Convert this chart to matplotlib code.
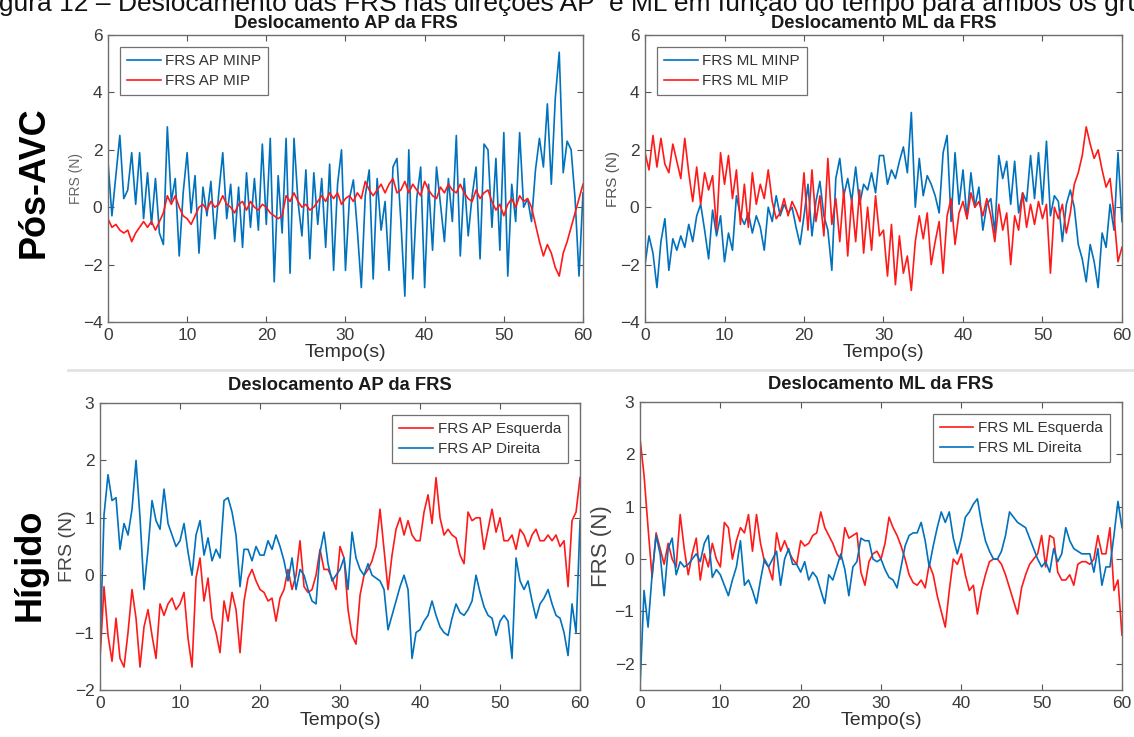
import numpy as np
import matplotlib.pyplot as plt

plt.rcParams['font.family'] = ['Liberation Sans', 'DejaVu Sans']

BLUE = '#0072BD'
RED = '#FF1A1A'

# Pós-AVC, AP (0..60 s, every 0.5 s)
ap_minp = [1.6, -0.3, 1.1, 2.5, 0.3, 0.6, 1.9, 0.1, 1.9, -0.4, 1.2, -0.6, 1.0, -0.9, -1.3, 2.8,
           0.2, 1.0, -1.7, 0.5, 1.9, -0.2, 1.1, -1.6, 0.7, -0.3, 0.9, -1.1, 0.5, 1.9, -0.4, 0.8,
           -1.2, 0.7, -1.4, 1.2, -0.7, 1.0, -0.8, 2.2, -0.6, 2.4, -2.6, 1.1, -0.9, 2.4, -2.3, 2.4,
           0.2, -1.0, 1.3, -1.8, 1.2, -0.6, 1.0, -1.4, 1.5, -2.2, 0.8, 2.0, -2.2, 0.3, 0.95, -0.8,
           -2.8, 0.4, 1.3, -2.5, 1.0, -0.8, 0.2, -2.2, 1.4, 1.7, -0.5, -3.1, 2.0, -2.5, 0.3, 1.4,
           -2.8, 0.8, -1.5, 1.4, 0.1, -1.2, 1.0, -0.5, 2.5, -1.7, 1.0, -1.0, 0.4, 1.4, -1.8, 2.2,
           2.0, -0.7, 1.7, -1.5, 2.6, -2.4, 0.8, -0.5, 2.6, 0.0, 0.3, -0.5, 1.3, 2.4, 1.4, 3.6,
           0.8, 3.8, 5.4, 1.2, 2.3, 2.0, 0.3, -2.4, 0.5]
ap_mip = [-0.4, -0.7, -0.6, -0.8, -0.9, -0.8, -1.2, -0.9, -0.7, -0.5, -0.7, -0.5, -0.8, -0.5,
          -0.2, 0.4, 0.1, 0.4, 0.0, -0.3, -0.4, -0.6, -0.3, 0.0, 0.1, -0.1, 0.2, 0.0, 0.1, 0.4,
          0.1, 0.0, -0.2, 0.1, 0.2, -0.1, 0.2, 0.0, -0.1, 0.1, 0.0, -0.2, -0.3, -0.4, -0.3, 0.4,
          0.2, 0.5, 0.2, 0.0, 0.1, -0.1, 0.0, 0.2, 0.4, 0.2, 0.5, 0.3, 0.5, 0.1, 0.3, 0.4, 0.2,
          0.5, 0.3, 0.9, 0.6, 0.4, 0.6, 0.8, 0.5, 0.8, 1.0, 0.5, 0.6, 0.9, 0.5, 0.8, 0.6, 0.4,
          0.9, 0.6, 0.4, 0.3, 0.7, 0.5, 0.8, 0.6, 0.5, 0.8, 0.5, 0.3, 0.2, 0.6, 0.3, 0.5, 0.6,
          0.2, -0.1, 0.1, -0.3, 0.1, 0.3, 0.0, 0.4, 0.2, 0.3, 0.0, -0.6, -1.2, -1.7, -1.3, -1.6,
          -2.1, -2.4, -1.6, -1.2, -0.7, -0.2, 0.3, 0.8]

# Pós-AVC, ML
ml_minp = [-2.0, -1.0, -1.6, -2.8, -1.2, -0.4, -2.2, -1.1, -1.5, -1.0, -1.4, -0.6, -1.2, -0.3,
           0.1, -0.8, -1.8, -0.1, -1.0, -0.3, -1.9, -0.9, -1.5, 0.4, -0.3, -0.6, -0.2, -0.9,
           -0.3, -0.7, -1.5, 0.0, -0.5, 0.4, -0.3, 0.1, -0.2, 0.0, -0.7, -1.3, -0.3, 0.8, -1.0,
           0.2, 0.9, -0.3, -0.8, -2.2, 1.0, 1.7, 0.4, 1.0, 0.2, 1.4, 0.1, 0.8, 0.6, 1.2, 0.5,
           1.8, 1.8, 0.8, 1.3, 1.0, 1.6, 2.1, 1.2, 3.3, 0.0, 1.7, 0.4, 1.1, 0.8, 0.4, -0.2, 1.9,
           2.5, -0.5, 1.9, 0.1, 1.3, -0.4, 1.2, 0.0, 0.7, -0.8, 0.1, 0.3, -0.9, 1.8, 1.0, 1.6,
           0.1, 1.6, -0.2, 0.5, 0.2, 1.8, 0.3, 1.9, 0.1, 2.3, -0.3, 0.4, 0.2, -1.2, 0.1, 0.6,
           0.0, -1.3, -1.8, -2.6, -1.3, -1.9, -2.8, -0.9, -1.4, 0.1, -0.8, 1.9, -0.5]
ml_mip = [1.9, 1.3, 2.5, 1.4, 2.4, 1.5, 1.2, 2.2, 1.6, 1.0, 2.4, 1.2, 0.2, 1.4, 0.1, 1.2, 0.6,
          1.1, -0.8, 1.9, 0.8, 1.8, 0.3, 1.3, -0.6, 0.8, -0.7, 1.2, 0.1, 0.8, 0.3, 1.3, 0.2,
          -0.4, -0.2, 0.3, -0.3, 0.2, -0.1, -0.5, 1.2, -0.8, 1.3, -0.5, 0.4, -1.0, 1.7, -0.6,
          0.3, -1.2, 0.6, -1.7, 0.3, -1.2, 0.6, -1.6, 0.0, -1.5, 0.4, -1.0, -0.8, -2.4, -0.6,
          -2.7, -1.0, -2.3, -1.7, -2.9, -1.2, -0.3, -1.1, -0.2, -2.0, -1.2, -0.5, -2.3, -0.3,
          0.3, -1.3, -0.2, 0.2, -0.4, 0.5, 0.0, 0.2, -0.3, 0.3, -0.3, -1.2, 0.1, -0.8, -0.2,
          -2.0, -0.3, -0.8, 0.5, -0.7, 0.1, -0.6, 0.2, -0.4, 0.1, -2.3, 0.0, -0.4, 0.1, -0.9,
          -0.2, 0.8, 1.2, 1.8, 2.8, 2.2, 1.7, 2.0, 1.3, 0.7, 1.0, -0.3, -1.9, -1.4]

# Hígido, AP
ap_esq = [-1.45, -0.2, -1.05, -1.5, -0.75, -1.45, -1.6, -1.0, -0.25, -0.75, -1.6, -0.9, -0.6,
          -1.05, -1.45, -0.5, -0.7, -0.5, -0.4, -0.6, -0.5, -0.3, -1.1, -1.6, -0.05, 0.3, -0.45,
          -0.05, -0.75, -1.0, -1.35, -0.45, -0.8, -0.3, -0.6, -1.35, -0.45, -0.05, 0.1, -0.1,
          -0.25, -0.3, -0.45, -0.4, -0.8, -0.4, -0.25, 0.1, -0.25, 0.0, 0.6, -0.2, -0.3, -0.25,
          0.0, 0.45, 0.1, 0.1, -0.05, -0.25, 0.5, 0.3, -0.6, -1.05, -1.2, -0.35, 0.0, 0.1, 0.25,
          0.5, 1.15, 0.45, -0.25, 0.35, 0.8, 1.0, 0.7, 0.95, 0.7, 0.6, 0.6, 1.1, 1.4, 0.9, 1.7,
          1.0, 0.7, 0.8, 0.7, 0.65, 0.35, 0.2, 1.1, 0.95, 1.0, 1.0, 0.45, 0.8, 1.15, 0.75, 1.0,
          0.6, 0.6, 0.7, 0.45, 0.8, 0.7, 0.5, 0.7, 0.8, 0.6, 0.6, 0.7, 0.6, 0.7, 0.5, 0.6, -0.2,
          0.95, 1.1, 1.7]
ap_dir = [-1.3, 1.05, 1.75, 1.3, 1.35, 0.45, 0.9, 0.7, 1.15, 2.0, 1.0, -0.25, 0.45, 1.3, 0.95,
          0.8, 1.5, 0.9, 0.7, 0.5, 0.6, 0.9, 0.4, 0.0, 0.7, 0.95, 0.35, 0.65, 0.25, 0.45, 0.3,
          1.3, 1.35, 1.1, 0.7, -0.2, 0.45, 0.45, 0.25, 0.5, 0.35, 0.35, 0.6, 0.45, 0.7, 0.5,
          0.25, -0.1, 0.3, -0.25, 0.1, 0.0, -0.25, -0.45, -0.5, 0.4, 0.75, 0.2, -0.1, 0.0, 0.1,
          0.3, -0.25, 0.75, 0.3, 0.1, 0.0, 0.2, 0.0, -0.05, -0.1, -0.25, -0.95, -0.7, -0.45,
          -0.2, 0.0, -0.25, -1.45, -1.0, -0.95, -0.8, -0.7, -0.45, -0.7, -0.9, -1.0, -1.05,
          -0.75, -0.5, -0.65, -0.7, -0.6, -0.45, 0.0, -0.3, -0.55, -0.7, -0.75, -1.05, -0.8,
          -0.7, -0.8, -1.45, 0.3, -0.1, -0.25, -0.1, -0.45, -0.75, -0.5, -0.4, -0.25, -0.5,
          -0.7, -0.75, -1.0, -1.4, -0.5, -1.0, 0.95]

# Hígido, ML
ml_esq = [2.3, 1.6, 0.6, -0.35, 0.5, 0.2, -0.1, 0.3, 0.0, -0.15, 0.85, 0.2, -0.3, 0.1, 0.4,
          -0.4, 0.1, -0.15, 0.3, 0.0, -0.15, 0.7, 0.6, 0.0, 0.35, 0.6, 0.5, 0.85, 0.15, 0.85,
          0.3, -0.05, -0.15, -0.4, 0.5, 0.15, 0.35, 0.15, 0.0, -0.1, 0.35, 0.25, 0.3, 0.45, 0.5,
          0.9, 0.6, 0.45, 0.3, 0.1, 0.0, 0.6, 0.4, 0.45, 0.5, -0.25, -0.5, -0.05, 0.1, 0.15,
          0.0, 0.3, 0.8, 0.6, 0.45, 0.25, 0.0, -0.3, -0.45, -0.5, -0.4, -0.55, -0.1, -0.3,
          -0.7, -1.0, -1.3, -0.6, 0.0, -0.1, 0.1, -0.3, -0.6, -0.5, -1.05, -0.6, -0.3, -0.05,
          0.0, 0.0, -0.1, -0.3, -0.55, -0.8, -1.05, -0.55, -0.3, -0.1, 0.0, 0.1, 0.45, -0.15,
          0.45, 0.4, -0.25, -0.4, -0.4, -0.3, -0.5, -0.1, -0.05, -0.05, -0.1, 0.0, 0.45, 0.1,
          0.1, 0.6, -0.6, -0.4, -1.45]
ml_dir = [-2.45, -0.6, -1.3, -0.3, 0.45, 0.1, -0.7, 0.2, 0.4, -0.3, -0.05, -0.15, -0.1, 0.0,
          0.1, -0.05, 0.3, 0.45, -0.35, -0.2, -0.3, -0.5, -0.7, -0.4, -0.15, 0.35, -0.5, -0.4,
          -0.6, -0.85, -0.4, 0.0, -0.15, 0.0, 0.15, -0.5, 0.0, 0.2, -0.1, -0.1, -0.25, -0.05,
          -0.4, -0.25, -0.35, -0.6, -0.85, -0.3, -0.4, -0.15, 0.1, -0.2, -0.7, -0.15, -0.05,
          0.4, 0.35, 0.35, 0.0, -0.05, 0.0, -0.2, -0.35, -0.4, -0.55, -0.15, 0.25, 0.45, 0.5,
          0.5, 0.7, 0.35, -0.15, 0.25, 0.6, 0.9, 0.7, 0.9, 0.4, 0.1, 0.4, 0.8, 0.9, 1.05, 1.15,
          0.7, 0.35, 0.15, 0.0, 0.0, 0.15, 0.45, 0.9, 0.8, 0.7, 0.65, 0.6, 0.4, 0.2, 0.0, -0.15,
          -0.05, -0.25, 0.2, -0.05, 0.1, 0.6, 0.35, 0.2, 0.15, 0.1, 0.1, 0.1, -0.25, 0.2, -0.5,
          -0.15, -0.15, 0.45, 1.1, 0.6]

fig = plt.figure(figsize=(11.34, 7.37), dpi=100)


def tempo(vals):
    return np.linspace(0, 60, len(vals))


def style(ax, ylim, yticks, ylab_size, ylab_color, ylab_pad, title, title_pad):
    ax.set_xlim(0, 60)
    ax.set_ylim(*ylim)
    ax.set_xticks(np.arange(0, 61, 10))
    ax.set_yticks(yticks)
    ax.tick_params(direction='in', top=True, right=True, length=4, width=0.8,
                   colors='#555555', labelcolor='#3a3a3a', labelsize=12.5, pad=4)
    for s in ax.spines.values():
        s.set_color('#6e6e6e')
        s.set_linewidth(1.0)
    ax.set_xlabel('Tempo(s)', fontsize=14, color='#303030', labelpad=1)
    ax.set_ylabel('FRS (N)', fontsize=ylab_size, color=ylab_color, labelpad=ylab_pad)
    ax.set_title(title, fontsize=13.2, fontweight='bold', color='#1a1a1a', pad=title_pad)


def legend(ax, loc):
    lg = ax.legend(loc=loc, fontsize=11, frameon=True, fancybox=False, handlelength=2.2,
                   handletextpad=0.3, borderpad=0.45, labelspacing=0.4, borderaxespad=0.8)
    lg.get_frame().set_edgecolor('#4d4d4d')
    lg.get_frame().set_linewidth(0.9)
    for t in lg.get_texts():
        t.set_color('#333333')


ax1 = fig.add_axes([0.0952, 0.5631, 0.4189, 0.3894])
ax1.plot(tempo(ap_minp), ap_minp, color=BLUE, lw=1.2, label='FRS AP MINP')
ax1.plot(tempo(ap_mip), ap_mip, color=RED, lw=1.2, label='FRS AP MIP')
style(ax1, (-4, 6), [-4, -2, 0, 2, 4, 6], 10, '#666666', 0, 'Deslocamento AP da FRS', 5)
legend(ax1, 'upper left')

ax2 = fig.add_axes([0.5688, 0.5631, 0.4206, 0.3894])
ax2.plot(tempo(ml_minp), ml_minp, color=BLUE, lw=1.2, label='FRS ML MINP')
ax2.plot(tempo(ml_mip), ml_mip, color=RED, lw=1.2, label='FRS ML MIP')
style(ax2, (-4, 6), [-4, -2, 0, 2, 4, 6], 11, '#555555', 0, 'Deslocamento ML da FRS', 5)
legend(ax2, 'upper left')

ax3 = fig.add_axes([0.0882, 0.0638, 0.4233, 0.3894])
ax3.plot(tempo(ap_esq), ap_esq, color=RED, lw=1.2, label='FRS AP Esquerda')
ax3.plot(tempo(ap_dir), ap_dir, color=BLUE, lw=1.2, label='FRS AP Direita')
style(ax3, (-2, 3), [-2, -1, 0, 1, 2, 3], 14, '#444444', -1, 'Deslocamento AP da FRS', 9)
legend(ax3, 'upper right')

ax4 = fig.add_axes([0.5644, 0.0638, 0.4250, 0.3908])
ax4.plot(tempo(ml_esq), ml_esq, color=RED, lw=1.2, label='FRS ML Esquerda')
ax4.plot(tempo(ml_dir), ml_dir, color=BLUE, lw=1.2, label='FRS ML Direita')
style(ax4, (-2.5, 3), [-2, -1, 0, 1, 2, 3], 16, '#444444', 2, 'Deslocamento ML da FRS', 9)
legend(ax4, 'upper right')

# group labels and the cropped caption
fig.text(0.030, 0.753, 'Pós-AVC', rotation=90, fontsize=26, fontweight='bold',
         ha='center', va='center')
fig.text(0.027, 0.233, 'Hígido', rotation=90, fontsize=26, fontweight='bold',
         ha='center', va='center')
fig.text(-0.020, 1 - 11 / 737, 'Figura 12 \u2013 Deslocamento das FRS nas direções AP  e ML '
         'em função do tempo para ambos os grupos', fontsize=19, ha='left', va='baseline',
         color='#111111')
fig.add_artist(plt.Line2D([0.06, 1.0], [1 - 370 / 737] * 2, color='#e3e3e3', lw=2))

fig.savefig('out.png', dpi=100)
